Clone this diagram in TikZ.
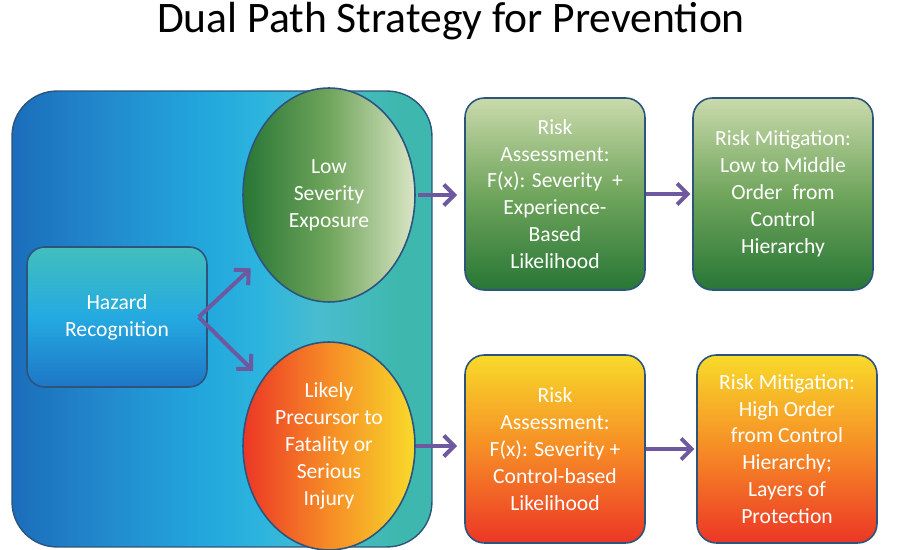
\documentclass[tikz,border=0pt]{standalone}
\usepackage{fontspec}
\setmainfont{Carlito}
\usepackage{xcolor}
\usetikzlibrary{arrows.meta,shapes.geometric}

\definecolor{pnlA}{RGB}{27,109,186}
\definecolor{pnlB}{RGB}{34,136,204}
\definecolor{pnlC}{RGB}{34,166,220}
\definecolor{pnlD}{RGB}{44,180,222}
\definecolor{pnlE}{RGB}{74,188,207}
\definecolor{pnlF}{RGB}{62,184,174}
\definecolor{hazT}{RGB}{66,190,188}
\definecolor{hazM}{RGB}{36,170,225}
\definecolor{hazB}{RGB}{30,118,198}
\definecolor{grnT}{RGB}{202,218,172}
\definecolor{grnM}{RGB}{112,165,92}
\definecolor{grnB}{RGB}{40,118,54}
\definecolor{orgT}{RGB}{248,218,42}
\definecolor{orgM}{RGB}{246,140,38}
\definecolor{orgB}{RGB}{236,54,38}
\definecolor{edge}{RGB}{44,84,124}
\definecolor{arrowc}{RGB}{110,88,160}

\pgfdeclarehorizontalshading{panelshade}{100bp}{color(0bp)=(pnlA); color(25bp)=(pnlA); color(35.5bp)=(pnlB);
  color(47.4bp)=(pnlC); color(54.5bp)=(pnlD); color(61.7bp)=(pnlE); color(71bp)=(pnlF); color(75bp)=(pnlF); color(100bp)=(pnlF)}

\begin{document}
\begin{tikzpicture}[x=0.02cm,y=-0.02cm,
  txt/.style={text=white, align=center, font=\fontsize{12.3}{15.3}\selectfont},
  box/.style={txt, rectangle, rounded corners=11pt, draw=edge, line width=0.9pt, minimum width=3.6cm},
  greenbox/.style={box, top color=grnT, bottom color=grnB, middle color=grnM},
  orangebox/.style={box, top color=orgT, bottom color=orgB, middle color=orgM},
  oval/.style={txt, ellipse, draw=edge, line width=0.9pt, inner sep=0pt, minimum width=3.44cm},
  flow/.style={draw=arrowc, line width=2.3pt, -{Straight Barb[length=6pt,width=12pt]}}]

\useasboundingbox (0,0) rectangle (900,550);

\node[font=\fontsize{24.8}{30}\selectfont, anchor=base] (title) at (451,33) {Dual Path Strategy for Prevention};

% left panel
\node[rectangle, rounded corners=0.9cm, draw=edge, line width=0.8pt, minimum width=8.4cm, minimum height=9.12cm,
  shading=panelshade] (zone) at (222,319) {};

\node[box, rounded corners=10pt, minimum height=2.8cm, top color=hazT, bottom color=hazB, middle color=hazM] (hazard) at (117,317) {Hazard\\Recognition};

\node[oval, minimum height=4.28cm, left color=grnB, right color=grnT!70!white, middle color=grnM] (low) at (329,195) {Low\\Severity\\Exposure};
\node[oval, minimum height=4.16cm, left color=orgB, right color=orgT, middle color=orgM] (risk) at (329,446) {Likely\\Precursor to\\Fatality or\\Serious\\Injury};

% upper path
\node[greenbox, minimum height=3.84cm] (assessA) at (555,194) {Risk\\Assessment:\\F(x): Severity \ +\\Experience-\\Based\\Likelihood};
\node[greenbox, minimum height=3.84cm] (mitigA) at (783,194) {Risk Mitigation:\\Low to Middle\\Order \ from\\Control\\Hierarchy};

% lower path
\node[orangebox, minimum height=3.76cm] (assessB) at (555,449) {Risk\\Assessment:\\F(x): Severity +\\Control-based\\Likelihood};
\node[orangebox, minimum height=3.76cm] (mitigB) at (787,449) {Risk Mitigation:\\High Order\\from Control\\Hierarchy;\\Layers of\\Protection};

\coordinate (fork) at ([xshift=-0.18cm]hazard.east);
\draw[flow, shorten >=7pt] (fork) -- (low);
\draw[flow, shorten >=7pt] (fork) -- (risk);
\draw[flow, shorten <=1pt, shorten >=4pt] (low.east) -- (low.east -| assessA.west);
\draw[flow, shorten >=4pt] (risk.east) -- (risk.east -| assessB.west);
\draw[flow, shorten >=1pt] (assessA) -- (mitigA);
\draw[flow, shorten >=1pt] (assessB) -- (mitigB);
\end{tikzpicture}
\end{document}
